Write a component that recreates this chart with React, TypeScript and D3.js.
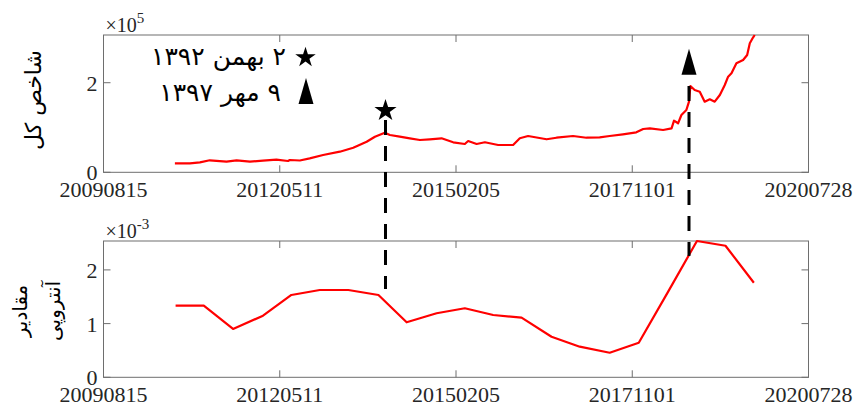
import React from "react";
import * as d3 from "d3";

// ---------- data ----------
const xTickDates = ["2009-08-15", "2012-05-11", "2015-02-05", "2017-11-01", "2020-07-28"];
const xTickLabels = ["20090815", "20120511", "20150205", "20171101", "20200728"];

const indexDates = [
  "2010-09-24", "2010-12-18", "2011-02-13", "2011-04-10", "2011-07-14", "2011-09-09", "2011-11-24",
  "2012-02-06", "2012-04-22", "2012-06-27", "2012-07-07", "2012-09-02", "2012-10-28", "2013-01-12",
  "2013-04-17", "2013-07-02", "2013-09-16", "2013-11-02", "2013-12-28", "2014-01-26", "2014-03-23",
  "2014-05-19", "2014-07-15", "2014-09-09", "2014-11-15", "2015-01-20", "2015-03-27", "2015-04-15",
  "2015-06-02", "2015-07-19", "2015-10-02", "2015-12-26", "2016-02-02", "2016-03-20", "2016-07-03",
  "2016-08-28", "2016-11-30", "2017-02-14", "2017-04-30", "2017-06-26", "2017-09-09", "2017-11-24",
  "2018-01-02", "2018-02-09", "2018-04-25", "2018-06-12", "2018-06-26", "2018-07-19", "2018-08-07",
  "2018-09-04", "2018-09-19", "2018-09-27", "2018-10-21", "2018-11-19", "2018-12-17", "2019-01-15",
  "2019-02-12", "2019-03-13", "2019-04-10", "2019-04-29", "2019-05-18", "2019-06-15", "2019-07-23",
  "2019-08-15", "2019-08-30", "2019-09-18", "2019-09-27",
];
const indexValues = [
  20100, 20100, 22300, 26800, 23700, 26800, 23700,
  25900, 28100, 25200, 27500, 26300, 31200, 38600,
  46000, 54900, 68300, 79500, 88400, 83300, 79500,
  75900, 72100, 73700, 75900, 67000, 63200, 69900,
  63200, 67000, 60900, 60900, 75900, 81000, 73700,
  77200, 81000, 77200, 78100, 81000, 84800, 89300,
  96600, 98200, 94400, 98200, 115200, 109400, 127900,
  139100, 157600, 192600, 183700, 179900, 157600, 162900,
  157600, 172500, 194900, 213400, 221000, 243300, 250700,
  261800, 287900, 301300, 306500,
];

const entropyDates = [
  "2010-09-28", "2011-03-07", "2011-08-20", "2012-02-06", "2012-07-16", "2012-12-24", "2013-06-04",
  "2013-11-22", "2014-05-01", "2014-10-18", "2015-03-27", "2015-09-04", "2016-02-12", "2016-07-31",
  "2017-01-07", "2017-06-26", "2017-12-08", "2018-05-23", "2018-11-03", "2019-04-14", "2019-09-22",
];
const entropyValues = [
  1.333e-3, 1.333e-3, 0.9e-3, 1.147e-3, 1.533e-3, 1.626e-3, 1.626e-3,
  1.533e-3, 1.024e-3, 1.192e-3, 1.285e-3, 1.16e-3, 1.11e-3, 0.756e-3,
  0.57e-3, 0.458e-3, 0.644e-3, 1.59e-3, 2.538e-3, 2.45e-3, 1.76e-3,
];

const topYTicks = [0, 2e5];
const topYTickLabels = ["0", "2"];
const bottomYTicks = [0, 1e-3, 2e-3];
const bottomYTickLabels = ["0", "1", "2"];

// event markers
const starDate = "2014-01-01";
const starTopValue = 137500;
const starLineTop = 116700;
const starLineBottom = 1.645e-3;
const triDate = "2018-09-19";
const triTopValue = 246900;
const triLineTop = 192600;
const triLineBottom = 2.26e-3;

const legendTexts = ["۲ بهمن ۱۳۹۲", "۹ مهر ۱۳۹۷"];
const topYLabel = "شاخص کل";
const bottomYLabel = ["مقادیر", "آنتروپی"];

// ---------- layout ----------
const W = 855;
const H = 410;
const L = 103.5;
const R = 808.5;
const topPanel = { y0: 35, y1: 172.3 };
const botPanel = { y0: 241, y1: 377.3 };

const parse = d3.timeParse("%Y-%m-%d");

const x = d3
  .scaleTime()
  .domain([parse(xTickDates[0])!, parse(xTickDates[xTickDates.length - 1])!])
  .range([L, R]);
const yTop = d3.scaleLinear().domain([0, 306500]).range([topPanel.y1, topPanel.y0]);
const yBot = d3.scaleLinear().domain([0, 2.538e-3]).range([botPanel.y1, botPanel.y0]);

const serif = "'Liberation Serif', 'Times New Roman', serif";
const persian = "'DejaVu Sans', sans-serif";
const axisColor = "#6e6e6e";
const textColor = "#262626";
const TL = 7;

function Panel({
  y,
  y0,
  y1,
  ticks,
  labels,
  exp,
}: {
  y: d3.ScaleLinear<number, number>;
  y0: number;
  y1: number;
  ticks: number[];
  labels: string[];
  exp: string;
}) {
  return (
    <g>
      <rect x={L} y={y0} width={R - L} height={y1 - y0} fill="#fff" stroke={axisColor} strokeWidth={1} />
      {xTickDates.map((d, i) => {
        const xx = x(parse(d)!);
        return (
          <g key={d}>
            <line x1={xx} x2={xx} y1={y1} y2={y1 - TL} stroke={axisColor} />
            <line x1={xx} x2={xx} y1={y0} y2={y0 + TL} stroke={axisColor} />
            <text x={xx} y={y1 + 25} textAnchor="middle" style={{ fontFamily: serif }} fontSize={22} fill={textColor}>
              {xTickLabels[i]}
            </text>
          </g>
        );
      })}
      {ticks.map((t, i) => {
        const yy = y(t);
        return (
          <g key={t}>
            <line x1={L} x2={L + TL} y1={yy} y2={yy} stroke={axisColor} />
            <line x1={R} x2={R - TL} y1={yy} y2={yy} stroke={axisColor} />
            <text
              x={L - 6}
              y={yy + (i === 0 ? 0 : 0.5)}
              textAnchor="end"
              dominantBaseline="central"
              style={{ fontFamily: serif }}
              fontSize={22}
              fill={textColor}
            >
              {labels[i]}
            </text>
          </g>
        );
      })}
      <text x={L + 2} y={y0 - 3} style={{ fontFamily: serif }} fontSize={20} fill={textColor}>
        ×10
        <tspan dy={-9} fontSize={15}>
          {exp}
        </tspan>
      </text>
    </g>
  );
}

export default function App() {
  const topLine = d3
    .line<number>()
    .x((_, i) => x(parse(indexDates[i])!))
    .y((v) => yTop(v));
  const botLine = d3
    .line<number>()
    .x((_, i) => x(parse(entropyDates[i])!))
    .y((v) => yBot(v));

  const starX = x(parse(starDate)!);
  const triX = x(parse(triDate)!);
  const starPath = d3.symbol(d3.symbolStar, 152)()!;
  const legendStarPath = d3.symbol(d3.symbolStar, 130)()!;
  const triPath = "M0,-13L7.5,13L-7.5,13Z";

  const dash = "15,11";

  return (
    <svg
      width={W}
      height={H}
      viewBox={`0 0 ${W} ${H}`}
      style={{ position: "absolute", left: 0, top: 0, background: "#fff" }}
    >
      <rect x={0} y={0} width={W} height={H} fill="#fff" />
      <Panel y={yTop} y0={topPanel.y0} y1={topPanel.y1} ticks={topYTicks} labels={topYTickLabels} exp="5" />
      <Panel y={yBot} y0={botPanel.y0} y1={botPanel.y1} ticks={bottomYTicks} labels={bottomYTickLabels} exp="-3" />

      <path d={topLine(indexValues)!} fill="none" stroke="#ff0000" strokeWidth={2.2} strokeLinejoin="round" />
      <path d={botLine(entropyValues)!} fill="none" stroke="#ff0000" strokeWidth={2.2} strokeLinejoin="round" />

      {/* event dashed lines */}
      <line
        x1={starX}
        x2={starX}
        y1={yTop(starLineTop)}
        y2={yBot(starLineBottom)}
        stroke="#000"
        strokeWidth={3}
        strokeDasharray={dash}
      />
      <line
        x1={triX}
        x2={triX}
        y1={yTop(triLineTop)}
        y2={yBot(triLineBottom)}
        stroke="#000"
        strokeWidth={3}
        strokeDasharray={dash}
      />
      <path d={starPath} transform={`translate(${starX},${yTop(starTopValue)})`} fill="#000" />
      <path d={triPath} transform={`translate(${triX},${yTop(triTopValue)})`} fill="#000" />

      {/* legend */}
      <path d={legendStarPath} transform="translate(305.5,57.5)" fill="#000" />
      <path d={triPath} transform="translate(306,91)" fill="#000" />
      <text x={286} y={65} textAnchor="end" style={{ fontFamily: persian }} fontSize={25} fill="#000">
        {"\u202B" + legendTexts[0] + "\u202C"}
      </text>
      <text x={281} y={101} textAnchor="end" style={{ fontFamily: persian }} fontSize={25} fill="#000">
        {"\u202B" + legendTexts[1] + "\u202C"}
      </text>

      {/* y labels */}
      <text
        transform="translate(33,100) rotate(-90)"
        textAnchor="middle"
        dominantBaseline="central"
        style={{ fontFamily: persian }}
        fontSize={22}
        fill="#000"
      >
        {"\u202B" + topYLabel + "\u202C"}
      </text>
      <text
        transform="translate(20,311) rotate(-90)"
        textAnchor="middle"
        dominantBaseline="central"
        style={{ fontFamily: persian }}
        fontSize={20}
        fill="#000"
      >
        {"\u202B" + bottomYLabel[0] + "\u202C"}
      </text>
      <text
        transform="translate(53,311) rotate(-90)"
        textAnchor="middle"
        dominantBaseline="central"
        style={{ fontFamily: persian }}
        fontSize={20}
        fill="#000"
      >
        {"\u202B" + bottomYLabel[1] + "\u202C"}
      </text>
    </svg>
  );
}
